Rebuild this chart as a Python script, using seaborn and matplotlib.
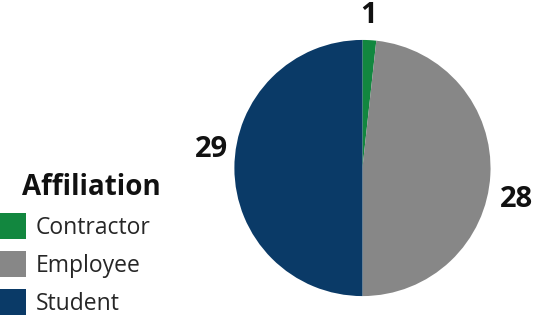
import numpy as np
import matplotlib
matplotlib.use("Agg")
import matplotlib.pyplot as plt
import seaborn as sns
from matplotlib.patches import Patch

categories = ["Contractor", "Employee", "Student"]
counts = [1, 28, 29]
colors = ["#12873f", "#878787", "#0a3a67"]

# label placement tweaks (angle offset in degrees, radial distance)
label_angle_shift = [0.8, -8.6, -7.0]
label_radius = [1.19, 1.23, 1.19]

sns.set_theme(style="white")
plt.rcParams["font.family"] = ["Open Sans", "DejaVu Sans"]

fig = plt.figure(figsize=(5.35, 3.17), dpi=100)
ax = fig.add_axes([0.438, 0.066, 0.479, 0.808])

wedges, _ = ax.pie(counts, colors=colors, startangle=90, counterclock=False,
                   radius=1, wedgeprops=dict(linewidth=0))
ax.set_xlim(-1, 1)
ax.set_ylim(-1, 1)
ax.set_aspect("equal")

for w, n, da, r in zip(wedges, counts, label_angle_shift, label_radius):
    ang = np.deg2rad((w.theta1 + w.theta2) / 2 + da)
    ax.text(r * np.cos(ang), r * np.sin(ang), str(n), ha="center", va="center",
            fontsize=21, fontweight="bold", color="#111111", clip_on=False)

# legend title drawn separately so it can sit indented like the original
fig.text(0.041, 0.41, "Affiliation", ha="left", va="center",
         fontsize=20, fontweight="bold", color="#111111")

handles = [Patch(facecolor=c, edgecolor="none") for c in colors]
leg = fig.legend(handles, categories, loc="upper left",
                 bbox_to_anchor=(-0.002, 0.327), frameon=False, fontsize=16.5,
                 handlelength=1.18, handleheight=1.34,
                 handletextpad=0.43, labelspacing=0.5, borderaxespad=0,
                 borderpad=0)

fig.savefig("out.png", dpi=100, facecolor="white")
